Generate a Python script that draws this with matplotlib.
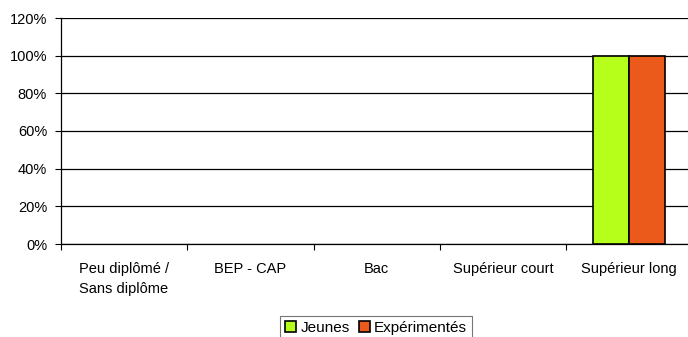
import numpy as np
import matplotlib.pyplot as plt
from matplotlib.ticker import PercentFormatter

categories = ['Peu diplômé /\nSans diplôme', 'BEP - CAP', 'Bac', 'Supérieur court', 'Supérieur long']
jeunes = [0, 0, 0, 0, 100]
experimentes = [0, 0, 0, 0, 100]

plt.rcParams['font.family'] = ['Liberation Sans', 'DejaVu Sans']
plt.rcParams['font.size'] = 10.5

fig = plt.figure(figsize=(6.88, 3.37), dpi=100)
ax = fig.add_axes([61 / 688, 1 - 244 / 337, 631.5 / 688, 226 / 337])

x = np.arange(len(categories))
w = 0.286
lw_j = [1.2 if v > 0 else 0 for v in jeunes]
lw_e = [1.2 if v > 0 else 0 for v in experimentes]
ax.bar(x - w / 2, jeunes, w, color='#B5FF1A', edgecolor='black', linewidth=lw_j, label='Jeunes', zorder=3)
ax.bar(x + w / 2, experimentes, w, color='#EB5A1A', edgecolor='black', linewidth=lw_e, label='Expérimentés', zorder=3)

ax.set_xlim(-0.5, len(categories) - 0.5)
ax.set_ylim(0, 120)
ax.set_yticks(np.arange(0, 121, 20))
ax.yaxis.set_major_formatter(PercentFormatter(decimals=0))
ax.grid(axis='y', color='black', linewidth=0.9, zorder=0)

ax.set_xticks(np.arange(-0.5, len(categories) - 0.5 + 0.01, 1))
ax.set_xticklabels([])
ax.set_xticks(x, minor=True)
ax.set_xticklabels(categories, minor=True)
for t in ax.get_xticklabels(minor=True):
    t.set_multialignment('left')
    t.set_linespacing(1.5)
ax.tick_params(axis='x', which='minor', length=0, pad=13)
ax.tick_params(axis='x', which='major', length=4, direction='out', width=0.8)
ax.tick_params(axis='y', length=4, direction='out', width=0.8, pad=6)

for s in ['top', 'right']:
    ax.spines[s].set_visible(False)
ax.spines['left'].set_linewidth(0.9)
ax.spines['bottom'].set_linewidth(0.9)

leg = fig.legend(loc='upper center', bbox_to_anchor=(376 / 688, 1 - 316 / 337), ncol=2, frameon=True,
                 fancybox=False, edgecolor='#555555', handlelength=0.75, handleheight=0.75,
                 handletextpad=0.25, columnspacing=0.6, borderpad=0.3, borderaxespad=0, fontsize=11)
for h in leg.legend_handles:
    h.set_linewidth(1.2)
    h.set_edgecolor('black')
leg.get_frame().set_linewidth(0.8)

fig.savefig('out.png', dpi=100)
